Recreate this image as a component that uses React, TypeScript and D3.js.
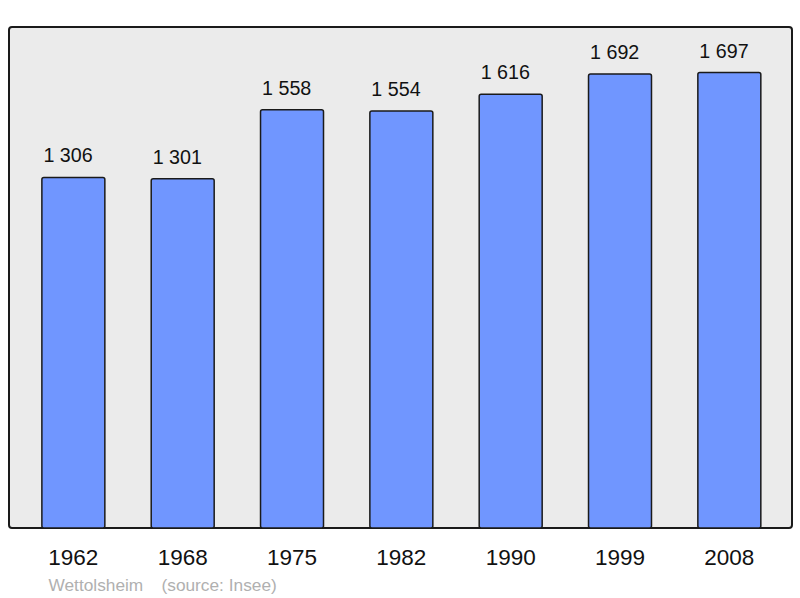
import React from "react";
import * as d3 from "d3";

const years = ["1962", "1968", "1975", "1982", "1990", "1999", "2008"];
const population = [1306, 1301, 1558, 1554, 1616, 1692, 1697];
const commune = "Wettolsheim";
const source = "(source: Insee)";

const W = 800;
const H = 598;
const frame = { x0: 9, x1: 792, y0: 27, y1: 528 };

function fmt(v: number): string {
  const s = String(v);
  return s.length > 3 ? s.slice(0, s.length - 3) + " " + s.slice(-3) : s;
}

export default function App() {
  const x = d3
    .scaleBand<string>()
    .domain(years)
    .range([18.7, 784])
    .paddingInner(0.424)
    .paddingOuter(0.212);
  const maxV = d3.max(population) as number;
  const y = d3.scaleLinear().domain([0, maxV * 1.1]).range([frame.y1, frame.y0]);

  return (
    <svg
      width={W}
      height={H}
      style={{ position: "absolute", left: 0, top: 0 }}
      fontFamily="'Liberation Sans', Arial, sans-serif"
    >
      <rect x={0} y={0} width={W} height={H} fill="#ffffff" />
      <rect
        x={frame.x0}
        y={frame.y0}
        width={frame.x1 - frame.x0}
        height={frame.y1 - frame.y0}
        rx={3}
        ry={3}
        fill="#ebebeb"
        stroke="#1a1a1a"
        strokeWidth={2}
      />
      {years.map((yr, i) => {
        const bx = x(yr) as number;
        const bw = x.bandwidth();
        const top = y(population[i]);
        return (
          <g key={yr}>
            <rect
              x={bx}
              y={top}
              width={bw}
              height={frame.y1 - top}
              rx={2}
              ry={2}
              fill="#7096ff"
              stroke="#1a1a1a"
              strokeWidth={1.5}
            />
            <text x={bx + 1.5} y={top - 15} fontSize={19.7} fill="#111">
              {fmt(population[i])}
            </text>
            <text x={bx + bw / 2} y={564.5} fontSize={22.5} textAnchor="middle" fill="#111">
              {yr}
            </text>
          </g>
        );
      })}
      <text x={48.5} y={591} fontSize={17.3} fill="#b0b0b0">
        {commune}
      </text>
      <text x={161.5} y={591} fontSize={17.3} fill="#b0b0b0">
        {source}
      </text>
    </svg>
  );
}
